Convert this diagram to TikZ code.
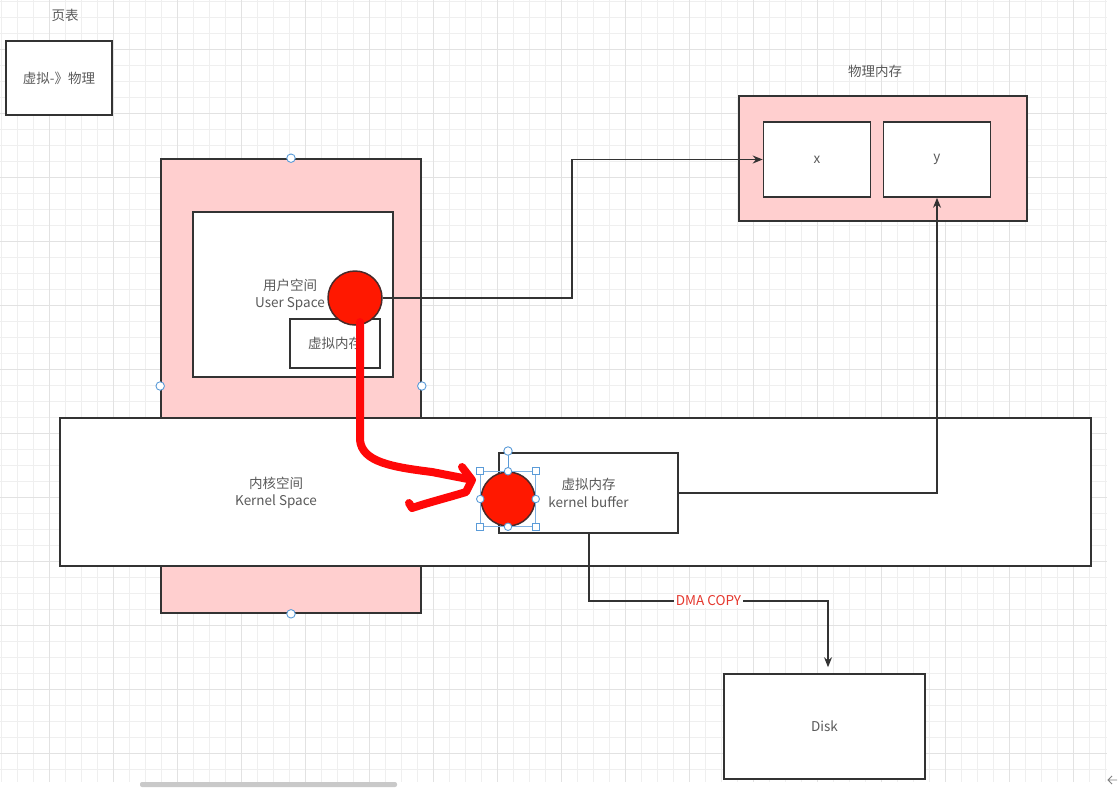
\documentclass[tikz,border=0pt]{standalone}
\usepackage{fontspec}
\setmainfont{Noto Sans CJK SC}
\usetikzlibrary{arrows.meta,calc}
\definecolor{linec}{HTML}{333333}
\definecolor{textc}{HTML}{5A5A5A}
\definecolor{pinkc}{HTML}{FFCFCF}
\definecolor{redc}{HTML}{FF1800}
\definecolor{strokec}{HTML}{FF0808}
\definecolor{circb}{HTML}{4A2A2A}
\definecolor{handc}{HTML}{5A9BD8}
\definecolor{selc}{HTML}{7FB0E0}
\definecolor{gridmin}{HTML}{EFEFEF}
\definecolor{gridmaj}{HTML}{E2E2E2}
\definecolor{dmac}{HTML}{E5382E}
\definecolor{barc}{HTML}{C9C9C9}
\tikzset{
  txt/.style={text=textc, font=\fontsize{13.5}{17.5}\selectfont, align=center, inner sep=1pt},
  box/.style={txt, draw=linec, line width=1.6pt, fill=white, inner sep=0pt},
  pinkbox/.style={box, fill=pinkc},
  rc/.style={circle, fill=redc, draw=circb, line width=1.5pt, minimum size=54pt, inner sep=0pt},
  conn/.style={draw=linec, line width=1.3pt, -{Stealth[length=10pt,width=8pt]}},
  hnd/.style={circle, draw=handc, fill=white, line width=0.9pt, minimum size=8.5pt, inner sep=0pt},
  sqh/.style={rectangle, draw=handc, fill=white, line width=0.8pt, minimum size=7pt, inner sep=0pt},
  redstroke/.style={draw=strokec, line width=8pt, line cap=round, line join=round},
}
\begin{document}
\begin{tikzpicture}[x=1pt, y=-1pt]
\useasboundingbox (0,0) rectangle (1118,796);
\fill[white] (0,0) rectangle (1118,796);
% grid
\foreach \i in {0,...,69} { \draw[gridmin, line width=0.8pt] ({1+16*\i},0) -- ({1+16*\i},782); }
\foreach \j in {0,...,48} { \draw[gridmin, line width=0.8pt] (0,{1+16*\j}) -- (1107,{1+16*\j}); }
\foreach \i in {0,...,16} { \draw[gridmaj, line width=0.9pt] ({49+64*\i},0) -- ({49+64*\i},782); }
\foreach \j in {0,...,11} { \draw[gridmaj, line width=0.9pt] (0,{49+64*\j}) -- (1107,{49+64*\j}); }
% scrollbar and corner arrow
\fill[barc, rounded corners=2pt] (140,782) rectangle (397,787);
\draw[gray, line width=0.8pt] (1117,780) -- (1108,780) (1112,776) -- (1108,780) -- (1112,784);

% page table
\node[txt] (ptl) at (65,15) {页表};
\node[box, minimum width=106pt, minimum height=74pt] (v2p) at (59,78) {虚拟-》物理};

% process / user space
\node[pinkbox, minimum width=260pt, minimum height=454pt] (proc) at (291,386) {};
\node[box, minimum width=200pt, minimum height=165pt] (user) at (293,294.5) {};
\node[txt] (usertxt) at (290,295) {用户空间\\User Space};
\node[box, minimum width=90pt, minimum height=49pt] (uvm) at (335,343.5) {虚拟内存};

% physical memory
\node[txt] (physl) at (875,71) {物理内存};
\node[pinkbox, minimum width=288pt, minimum height=125pt] (phys) at (883,158.5) {};
\node[box, minimum width=107pt, minimum height=75pt] (xbox) at (817,159.5) {x};
\node[box, minimum width=107pt, minimum height=75pt] (ybox) at (937,159.5) {y};

% kernel space
\node[box, minimum width=1031pt, minimum height=148pt] (kernel) at (575.5,492) {};
\node[txt] (kerneltxt) at (276,493) {内核空间\\Kernel Space};
\node[box, minimum width=179pt, minimum height=80pt] (kbuf) at (588.5,493) {虚拟内存\\kernel buffer};

% disk
\node[box, minimum width=201pt, minimum height=105pt] (disk) at (824.5,726.5) {Disk};

% handles on process box
\node[hnd] (h1) at (proc.north) {};
\node[hnd] (h2) at (proc.west) {};
\node[hnd] (h3) at (proc.east) {};
\node[hnd] (h4) at (proc.south) {};

% connectors
\node[rc] (ucirc) at (355,298) {};
\coordinate (b1) at (572,298);
\draw[conn] (ucirc.east) -- (b1) |- (xbox.west);
\draw[conn] (kbuf.east) -| (ybox.south);
\coordinate (d1) at (589,601);
\coordinate (d2) at (828,601);
\draw[conn, shorten >=6pt] (kbuf.south -| d1) -- (d1) -- node[txt, text=dmac, fill=white, inner sep=1.5pt] (dma) {DMA COPY} (d2) -- (d2 |- disk.north);

% red freehand annotation
\draw[redstroke] (360,322) -- (360,440) .. controls (362,462) and (392,467) .. (432,472) -- (468,479);
\draw[redstroke] (462,467) -- (472,480) -- (466,492) .. controls (450,497) and (430,502) .. (412,508) -- (409,503);

% kernel buffer circle with selection
\node[rc] (kcirc) at (508,499) {};
\draw[selc, line width=0.7pt] (kcirc.west |- kcirc.north) rectangle (kcirc.east |- kcirc.south);
\coordinate (rot) at (508,451);
\draw[handc, line width=0.9pt] (kcirc.north) -- (rot);
\node[hnd] (rh) at (rot) {};
\node[sqh] (s1) at (kcirc.west |- kcirc.north) {};
\node[sqh] (s2) at (kcirc.east |- kcirc.north) {};
\node[sqh] (s3) at (kcirc.west |- kcirc.south) {};
\node[sqh] (s4) at (kcirc.east |- kcirc.south) {};
\node[hnd, minimum size=7.5pt] (m1) at (kcirc.north) {};
\node[hnd, minimum size=7.5pt] (m2) at (kcirc.south) {};
\node[hnd, minimum size=7.5pt] (m3) at (kcirc.west) {};
\node[hnd, minimum size=7.5pt] (m4) at (kcirc.east) {};
\end{tikzpicture}
\end{document}
